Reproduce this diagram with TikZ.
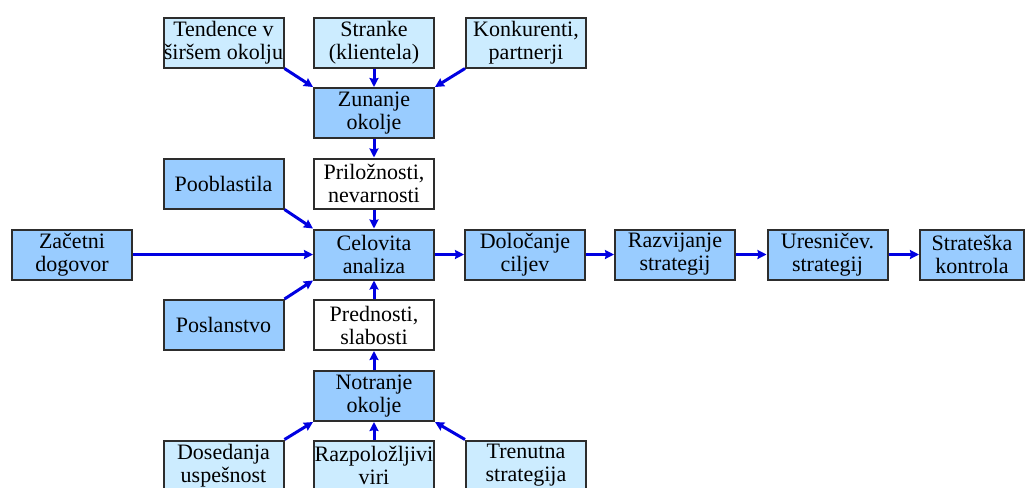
\documentclass[tikz,border=0pt]{standalone}
\usepackage{fontspec}
\setmainfont{Liberation Serif}
\usetikzlibrary{arrows.meta}
\definecolor{okvir}{RGB}{45,45,45}
\definecolor{temna}{RGB}{153,204,255}
\definecolor{svetla}{RGB}{204,236,255}
\definecolor{puscica}{RGB}{0,0,225}

\begin{document}
\begin{tikzpicture}[x=0.5pt, y=-0.5pt,
  box/.style={draw=okvir, line width=1pt, minimum width=60pt, minimum height=25pt, inner sep=0pt, align=center, font=\fontsize{11}{11.5}\selectfont},
  temno/.style={box, fill=temna},
  svetlo/.style={box, fill=svetla},
  belo/.style={box, fill=white},
  pot/.style={puscica, line width=1.5pt, -{Stealth[length=4.5pt, width=4.5pt, inset=0.5pt]}}]

\useasboundingbox (0,0) rectangle (1030,488);

    \node[svetlo] (tendence) at (223.5, 42.5) {Tendence v\\širšem okolju};
    \node[svetlo] (stranke) at (374, 42.5) {Stranke\\(klientela)};
    \node[svetlo] (konkurenti) at (526, 42.5) {Konkurenti,\\partnerji};

    \node[temno] (zunanje) at (374, 113) {Zunanje\\okolje};
    \node[belo] (priloznosti) at (374, 183.5) {Priložnosti,\\nevarnosti};
    \node[temno] (pooblastila) at (223.5, 183.5) {Pooblastila};

    \node[temno] (zacetni) at (72, 254.5) {Začetni\\dogovor};
    \node[temno] (celovita) at (374, 254.5) {Celovita\\analiza};
    \node[temno] (dolocanje) at (525, 254.5) {Določanje\\ciljev};
    \node[temno] (razvijanje) at (675, 254.5) {Razvijanje\\strategij};
    \node[temno] (uresnicev) at (827.5, 254.5) {Uresničev.\\strategij};
    \node[temno, minimum width=52pt] (strateska) at (972, 254.5) {Strateška\\kontrola};

    \node[temno] (poslanstvo) at (223.5, 325) {Poslanstvo};
    \node[belo] (prednosti) at (374, 325) {Prednosti,\\slabosti};
    \node[temno] (notranje) at (374, 396) {Notranje\\okolje};

    \node[svetlo] (dosedanja) at (223.5, 465.5) {Dosedanja\\uspešnost};
    \node[svetlo] (viri) at (374, 465.5) {Razpoložljivi\\viri};
    \node[svetlo] (trenutna) at (526, 465.5) {Trenutna\\strategija};

    \draw[pot] (tendence.south east) -- (zunanje.north west);
    \draw[pot] (stranke) -- (zunanje);
    \draw[pot] (konkurenti.south west) -- (zunanje.north east);
    \draw[pot] (zunanje) -- (priloznosti);
    \draw[pot] (priloznosti) -- (celovita);
    \draw[pot] (pooblastila.south east) -- (celovita.north west);
    \draw[pot] (zacetni) -- (celovita);
    \draw[pot] (poslanstvo.north east) -- (celovita.south west);
    \draw[pot] (prednosti) -- (celovita);
    \draw[pot] (notranje) -- (prednosti);
    \draw[pot] (dosedanja.north east) -- (notranje.south west);
    \draw[pot] (viri) -- (notranje);
    \draw[pot] (trenutna.north west) -- (notranje.south east);
    \draw[pot] (celovita) -- (dolocanje);
    \draw[pot] (dolocanje) -- (razvijanje);
    \draw[pot] (razvijanje) -- (uresnicev);
    \draw[pot] (uresnicev) -- (strateska);

\end{tikzpicture}
\end{document}
